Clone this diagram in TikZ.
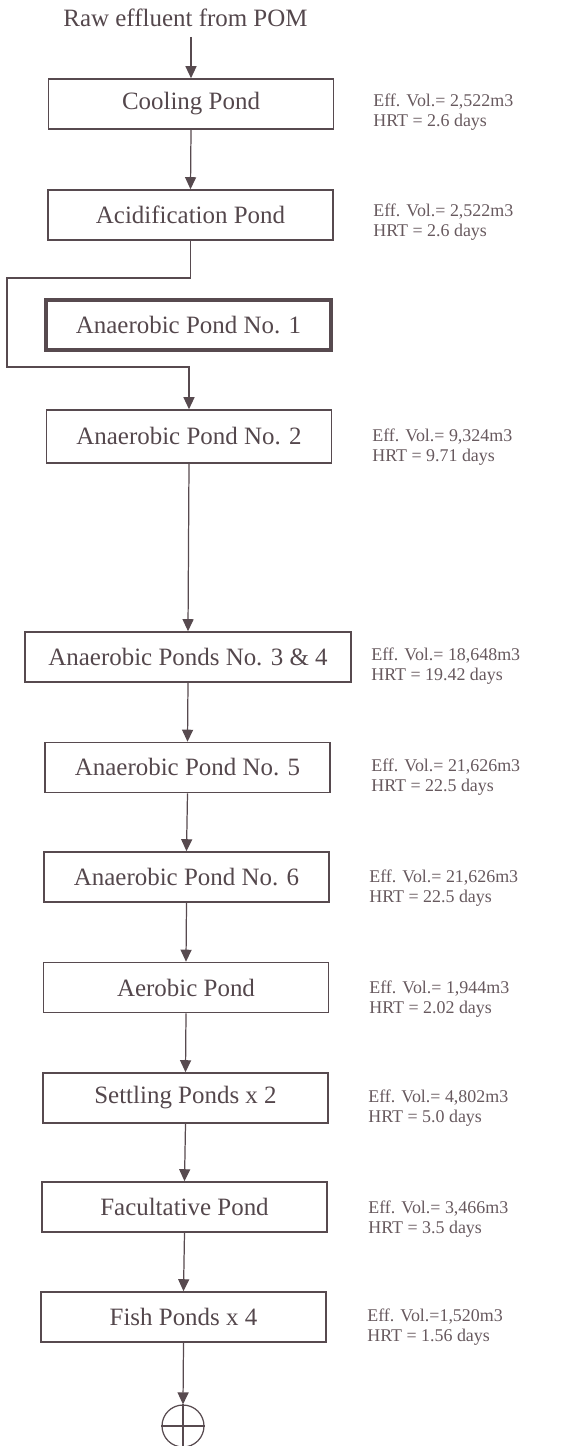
\documentclass[tikz,border=0pt]{standalone}
\usepackage{fontspec}
\setmainfont{Liberation Serif}
\usepackage{xcolor}
\usetikzlibrary{arrows.meta}

\definecolor{inkline}{HTML}{574A4F}
\definecolor{inktext}{HTML}{54474C}
\definecolor{inknote}{HTML}{67595E}

\begin{document}
\begin{tikzpicture}[x=0.02cm,y=-0.02cm,
            pond/.style={draw=inkline,line width=0.9pt,minimum width=5.7cm,minimum height=1cm,
                text=inktext,font=\fontsize{14.2}{17}\selectfont,inner sep=0pt},
            note/.style={anchor=west,align=left,text=inknote,inner sep=0pt,
                font=\fontsize{10.2}{11.2}\selectfont},
            flow/.style={draw=inkline,line width=0.7pt,-{Triangle[width=0.22cm,length=0.24cm]}}]
            \useasboundingbox (0,0) rectangle (577,1446);

            \node[text=inktext,font=\fontsize{14.2}{17}\selectfont] (raw) at (185.5,18){Raw effluent from POM};

            \node[pond] (cooling) at (191,104){Cooling Pond};
            \node[pond] (acid) at (190.5,215){Acidification Pond};
            \node[pond,line width=2.3pt] (an1) at (188.5,325){Anaerobic Pond No. 1};
            \node[pond,minimum height=1.06cm] (an2) at (189,436.5){Anaerobic Pond No. 2};
            \node[pond,minimum width=6.52cm] (an34) at (188,657){Anaerobic Ponds No. 3 \& 4};
            \node[pond] (an5) at (187.5,767.5){Anaerobic Pond No. 5};
            \node[pond] (an6) at (186.5,877){Anaerobic Pond No. 6};
            \node[pond] (aerobic) at (186,987.5){Aerobic Pond};
            \node[pond] (settling) at (185.5,1098){Settling Ponds x 2};
            \node[pond] (facult) at (184.5,1207){Facultative Pond};
            \node[pond] (fish) at (183.5,1317){Fish Ponds x 4};
            \node[circle,draw=inkline,line width=0.7pt,minimum size=0.84cm,inner sep=0pt] (outlet) at (183,1426){};

            % volumes and retention times
            \node[note] (ncooling) at (373,112){Eff. Vol.= 2,522m3\\HRT = 2.6 days};
            \node[note] (nacid) at (373,222){Eff. Vol.= 2,522m3\\HRT = 2.6 days};
            \node[note] (nan2) at (372,447){Eff. Vol.= 9,324m3\\HRT = 9.71 days};
            \node[note] (nan34) at (371,666){Eff. Vol.= 18,648m3\\HRT = 19.42 days};
            \node[note] (nan5) at (371,777){Eff. Vol.= 21,626m3\\HRT = 22.5 days};
            \node[note] (nan6) at (369,888){Eff. Vol.= 21,626m3\\HRT = 22.5 days};
            \node[note] (naerobic) at (369,999){Eff. Vol.= 1,944m3\\HRT = 2.02 days};
            \node[note] (nsettling) at (368,1108){Eff. Vol.= 4,802m3\\HRT = 5.0 days};
            \node[note] (nfacult) at (368,1219){Eff. Vol.= 3,466m3\\HRT = 3.5 days};
            \node[note] (nfish) at (367,1327){Eff. Vol.=1,520m3\\HRT = 1.56 days};

            % flow lines
            \coordinate (bypassA) at (7,278);
            \coordinate (bypassB) at (7,367);
            \draw[flow] (cooling.north |- 0,37) -- (cooling.north);
            \draw[flow] (cooling.south) -- (acid.north);
            \draw[flow] (acid.south) |- (bypassA) -- (bypassB) -| (an2.north);
            \draw[flow] (an2.south) -- (an34.north);
            \draw[flow] (an34.south) -- (an5.north);
            \draw[flow] (an5.south) -- (an6.north);
            \draw[flow] (an6.south) -- (aerobic.north);
            \draw[flow] (aerobic.south) -- (settling.north);
            \draw[flow] (settling.south) -- (facult.north);
            \draw[flow] (facult.south) -- (fish.north);
            \draw[flow] (fish.south) -- (outlet.north);
            \draw[inkline,line width=0.7pt] (outlet.north) -- (outlet.south);
            \draw[inkline,line width=0.7pt] (outlet.west) -- (outlet.east);
\end{tikzpicture}
\end{document}
